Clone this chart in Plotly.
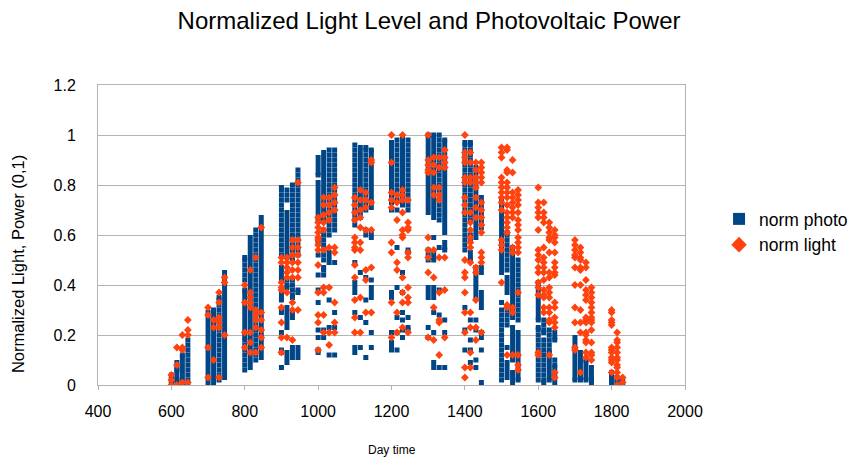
import plotly.graph_objects as go

times = [600, 615, 630, 645, 700, 715, 730, 745, 800, 815, 830, 845,
         900, 915, 930, 945, 1000, 1015, 1030, 1045, 1100, 1115, 1130, 1145,
         1200, 1215, 1230, 1245, 1300, 1315, 1330, 1345, 1400, 1415, 1430, 1445,
         1500, 1515, 1530, 1545, 1600, 1615, 1630, 1645, 1700, 1715, 1730, 1745,
         1800, 1815, 1830]

# norm photo values, one list per time column
photo = [
    [0.0, 0.01, 0.02, 0.03, 0.04],
    [0.01, 0.02, 0.03, 0.05, 0.06, 0.07, 0.09],
    [0.0, 0.01, 0.03, 0.05, 0.07, 0.09, 0.11, 0.12],
    [0.0, 0.02, 0.04, 0.06, 0.08, 0.1, 0.12, 0.14, 0.16, 0.18],
    [0.01, 0.03, 0.05, 0.07, 0.09, 0.11, 0.13, 0.15, 0.17, 0.19, 0.21, 0.23, 0.25, 0.27, 0.29],
    [0.01, 0.03, 0.05, 0.07, 0.09, 0.11, 0.13, 0.15, 0.17, 0.19, 0.21, 0.23, 0.25, 0.27, 0.29, 0.3],
    [0.02, 0.04, 0.06, 0.08, 0.1, 0.12, 0.14, 0.16, 0.18, 0.2, 0.22, 0.24, 0.26, 0.28, 0.3, 0.32, 0.34, 0.35],
    [0.03, 0.05, 0.07, 0.09, 0.11, 0.13, 0.15, 0.17, 0.19, 0.21, 0.23, 0.25, 0.27, 0.29, 0.31, 0.33, 0.35, 0.37, 0.39, 0.41, 0.43, 0.45],
    [0.06, 0.08, 0.1, 0.12, 0.14, 0.16, 0.18, 0.19, 0.21, 0.23, 0.25, 0.27, 0.29, 0.31, 0.33, 0.35, 0.37, 0.38, 0.42, 0.44, 0.46, 0.48, 0.5, 0.51],
    [0.07, 0.09, 0.11, 0.13, 0.15, 0.17, 0.19, 0.21, 0.23, 0.25, 0.27, 0.29, 0.31, 0.33, 0.35, 0.37, 0.39, 0.41, 0.43, 0.45, 0.47, 0.49, 0.51, 0.53, 0.55, 0.57, 0.59],
    [0.1, 0.12, 0.14, 0.16, 0.18, 0.2, 0.22, 0.24, 0.26, 0.28, 0.3, 0.32, 0.34, 0.36, 0.38, 0.4, 0.42, 0.44, 0.46, 0.48, 0.5, 0.52, 0.54, 0.56, 0.58, 0.6, 0.62],
    [0.11, 0.13, 0.15, 0.17, 0.19, 0.21, 0.23, 0.25, 0.27, 0.29, 0.31, 0.33, 0.35, 0.37, 0.39, 0.41, 0.43, 0.45, 0.47, 0.49, 0.51, 0.53, 0.55, 0.57, 0.59, 0.61, 0.63, 0.65, 0.67],
    [0.07, 0.13, 0.14, 0.21, 0.29, 0.3, 0.34, 0.35, 0.37, 0.42, 0.43, 0.45, 0.47, 0.52, 0.54, 0.56, 0.58, 0.6, 0.62, 0.64, 0.66, 0.68, 0.7, 0.72, 0.74, 0.76, 0.78, 0.79],
    [0.09, 0.11, 0.13, 0.23, 0.25, 0.27, 0.29, 0.31, 0.39, 0.4, 0.42, 0.51, 0.53, 0.55, 0.57, 0.59, 0.61, 0.63, 0.65, 0.67, 0.69, 0.74, 0.76, 0.78],
    [0.11, 0.13, 0.15, 0.27, 0.29, 0.35, 0.36, 0.38, 0.4, 0.42, 0.5, 0.52, 0.54, 0.56, 0.58, 0.6, 0.62, 0.64, 0.66, 0.68, 0.7, 0.72, 0.74, 0.76, 0.78, 0.8],
    [0.11, 0.13, 0.15, 0.37, 0.38, 0.52, 0.54, 0.56, 0.58, 0.6, 0.62, 0.64, 0.66, 0.68, 0.7, 0.72, 0.74, 0.76, 0.78, 0.8, 0.82, 0.84, 0.86],
    [0.13, 0.14, 0.19, 0.22, 0.33, 0.38, 0.44, 0.52, 0.57, 0.58, 0.66, 0.67, 0.69, 0.71, 0.73, 0.75, 0.77, 0.79, 0.81, 0.84, 0.85, 0.87, 0.89, 0.91],
    [0.19, 0.22, 0.44, 0.46, 0.47, 0.5, 0.52, 0.54, 0.56, 0.58, 0.6, 0.62, 0.66, 0.67, 0.69, 0.71, 0.73, 0.75, 0.77, 0.79, 0.81, 0.83, 0.85, 0.87, 0.89, 0.91, 0.93],
    [0.12, 0.23, 0.34, 0.49, 0.51, 0.53, 0.6, 0.62, 0.64, 0.66, 0.68, 0.7, 0.72, 0.74, 0.76, 0.78, 0.8, 0.82, 0.84, 0.86, 0.88, 0.9, 0.92, 0.94],
    [0.12, 0.23, 0.29, 0.49, 0.62, 0.64, 0.66, 0.68, 0.7, 0.72, 0.74, 0.76, 0.78, 0.8, 0.82, 0.84, 0.86, 0.88, 0.9, 0.92, 0.94],
    [0.13, 0.15, 0.29, 0.37, 0.39, 0.41, 0.49, 0.64, 0.66, 0.68, 0.7, 0.72, 0.74, 0.76, 0.78, 0.8, 0.82, 0.84, 0.86, 0.88, 0.9, 0.92, 0.94, 0.96],
    [0.15, 0.27, 0.45, 0.67, 0.69, 0.71, 0.73, 0.75, 0.77, 0.79, 0.81, 0.83, 0.85, 0.87, 0.89, 0.91, 0.93, 0.95],
    [0.11, 0.25, 0.34, 0.43, 0.6, 0.62, 0.7, 0.72, 0.74, 0.76, 0.78, 0.8, 0.82, 0.84, 0.86, 0.88, 0.9, 0.92, 0.94, 0.95],
    [0.15, 0.21, 0.35, 0.37, 0.39, 0.42, 0.59, 0.61, 0.71, 0.73, 0.75, 0.77, 0.79, 0.81, 0.83, 0.85, 0.87, 0.89, 0.91, 0.93, 0.94],
    [0.14, 0.15, 0.17, 0.21, 0.35, 0.37, 0.7, 0.73, 0.75, 0.77, 0.79, 0.81, 0.83, 0.85, 0.87, 0.89, 0.91, 0.93, 0.95, 0.97],
    [0.14, 0.21, 0.27, 0.39, 0.55, 0.7, 0.74, 0.76, 0.78, 0.8, 0.82, 0.84, 0.86, 0.88, 0.9, 0.92, 0.94, 0.96, 0.98],
    [0.19, 0.22, 0.26, 0.29, 0.37, 0.45, 0.72, 0.73, 0.75, 0.77, 0.79, 0.81, 0.83, 0.85, 0.87, 0.89, 0.91, 0.93, 0.95, 0.97, 0.99],
    [0.22, 0.23, 0.27, 0.53, 0.54, 0.7, 0.72, 0.74, 0.76, 0.78, 0.8, 0.82, 0.84, 0.86, 0.88, 0.9, 0.92, 0.94, 0.96, 0.98],
    [0.19, 0.23, 0.35, 0.37, 0.39, 0.5, 0.52, 0.54, 0.69, 0.71, 0.73, 0.75, 0.77, 0.79, 0.81, 0.83, 0.85, 0.87, 0.89, 0.91, 0.93, 0.95, 0.97, 0.99, 1.0],
    [0.07, 0.09, 0.21, 0.29, 0.35, 0.37, 0.39, 0.5, 0.51, 0.53, 0.59, 0.67, 0.69, 0.71, 0.73, 0.75, 0.77, 0.79, 0.81, 0.83, 0.85, 0.87, 0.89, 0.91, 0.93, 0.95, 0.97, 0.99, 1.0],
    [0.07, 0.28, 0.38, 0.55, 0.66, 0.68, 0.7, 0.72, 0.74, 0.76, 0.78, 0.8, 0.82, 0.84, 0.86, 0.88, 0.9, 0.92, 0.94, 0.96, 0.98, 1.0],
    [0.07, 0.21, 0.26, 0.54, 0.55, 0.57, 0.61, 0.63, 0.65, 0.67, 0.69, 0.71, 0.73, 0.75, 0.77, 0.79, 0.81, 0.83, 0.85, 0.87, 0.89, 0.91, 0.93, 0.95, 0.97, 0.98],
    [0.14, 0.22, 0.31, 0.54, 0.56, 0.58, 0.6, 0.62, 0.64, 0.66, 0.68, 0.7, 0.72, 0.74, 0.76, 0.78, 0.8, 0.82, 0.84, 0.86, 0.88, 0.9, 0.92, 0.94, 0.96, 0.97],
    [0.09, 0.14, 0.18, 0.26, 0.5, 0.51, 0.53, 0.58, 0.6, 0.66, 0.68, 0.7, 0.72, 0.74, 0.76, 0.78, 0.8, 0.82, 0.84, 0.86, 0.88, 0.9, 0.92, 0.94, 0.96, 0.97],
    [0.07, 0.1, 0.22, 0.26, 0.35, 0.37, 0.39, 0.41, 0.43, 0.45, 0.47, 0.59, 0.61, 0.63, 0.65, 0.67, 0.69, 0.71, 0.73, 0.75, 0.77, 0.79, 0.81, 0.83, 0.85, 0.87],
    [0.01, 0.14, 0.19, 0.21, 0.31, 0.33, 0.35, 0.37, 0.45, 0.47, 0.63, 0.65, 0.67, 0.69, 0.71, 0.73, 0.75],
    [0.02, 0.04, 0.06, 0.08, 0.1, 0.12, 0.14, 0.16, 0.18, 0.2, 0.22, 0.24, 0.26, 0.28, 0.3, 0.33, 0.45, 0.47, 0.49, 0.51, 0.53, 0.55, 0.57, 0.59, 0.61, 0.63, 0.65, 0.67, 0.69, 0.71, 0.73, 0.74],
    [0.03, 0.05, 0.07, 0.09, 0.15, 0.24, 0.26, 0.28, 0.3, 0.37, 0.39, 0.41, 0.43, 0.46, 0.48, 0.5, 0.52, 0.54, 0.56, 0.58, 0.6, 0.61],
    [0.01, 0.03, 0.05, 0.1, 0.11, 0.13, 0.15, 0.17, 0.19, 0.21, 0.23, 0.27, 0.29, 0.31, 0.33, 0.35, 0.37, 0.39, 0.41, 0.43, 0.45, 0.47, 0.49, 0.51, 0.53, 0.55],
    [0.02, 0.03, 0.05, 0.07, 0.09, 0.11, 0.13, 0.15, 0.17, 0.19, 0.21, 0.26, 0.28, 0.3, 0.32, 0.34, 0.36, 0.38, 0.4, 0.42, 0.44, 0.46, 0.48, 0.5],
    [0.02, 0.04, 0.06, 0.08, 0.1, 0.12, 0.14, 0.16, 0.18, 0.2, 0.22, 0.23, 0.26, 0.27, 0.29, 0.31, 0.33, 0.35, 0.37, 0.39, 0.41],
    [0.01, 0.02, 0.04, 0.06, 0.08, 0.1, 0.12, 0.14, 0.16, 0.18, 0.21, 0.22, 0.24, 0.26],
    [0.02, 0.03, 0.05, 0.07, 0.09, 0.11, 0.13, 0.14, 0.16, 0.18, 0.2, 0.22],
    [0.01, 0.03, 0.05, 0.07, 0.08, 0.1, 0.18, 0.19, 0.21],
    [0.02, 0.03, 0.05, 0.07, 0.09, 0.11, 0.13, 0.15, 0.17, 0.19],
    [0.02, 0.03, 0.05, 0.07, 0.09, 0.11, 0.13],
    [0.02, 0.03, 0.05, 0.07, 0.09, 0.1],
    [0.01, 0.02, 0.03, 0.05, 0.07],
    [0.0, 0.01, 0.02, 0.03, 0.04, 0.05],
    [0.0, 0.01, 0.02, 0.03],
    [0.0, 0.01, 0.02],
]

# norm light values, one list per time column
light = [
    [0.0, 0.02, 0.04],
    [0.0, 0.08, 0.15],
    [0.01, 0.14, 0.15, 0.2],
    [0.01, 0.2, 0.22, 0.26],
    [0.03, 0.15, 0.28, 0.31],
    [0.1, 0.23, 0.26],
    [0.03, 0.23, 0.25, 0.27, 0.33, 0.37],
    [0.2, 0.41, 0.43],
    [0.15, 0.21, 0.33, 0.4],
    [0.13, 0.17, 0.21, 0.31, 0.33, 0.35, 0.37, 0.46],
    [0.13, 0.23, 0.26, 0.28, 0.3, 0.51],
    [0.15, 0.19, 0.22, 0.26, 0.29, 0.63],
    [0.13, 0.19, 0.25, 0.31, 0.38, 0.39, 0.41, 0.49, 0.51],
    [0.19, 0.37, 0.43, 0.45, 0.47, 0.49, 0.51],
    [0.18, 0.3, 0.33, 0.43, 0.46, 0.49, 0.52, 0.55, 0.58],
    [0.3, 0.43, 0.46, 0.49, 0.52, 0.55, 0.58, 0.81],
    [0.14, 0.25, 0.28, 0.37, 0.48, 0.54, 0.56, 0.58, 0.59, 0.61, 0.63, 0.65, 0.67],
    [0.21, 0.28, 0.37, 0.39, 0.54, 0.62, 0.65, 0.68, 0.72, 0.75],
    [0.16, 0.21, 0.39, 0.55, 0.66, 0.69, 0.72, 0.75],
    [0.21, 0.25, 0.33, 0.53, 0.55, 0.7, 0.73, 0.76, 0.79],
    [0.21, 0.27, 0.34, 0.43, 0.48, 0.54, 0.55, 0.57, 0.59, 0.66, 0.69, 0.72, 0.75],
    [0.21, 0.35, 0.54, 0.57, 0.63, 0.67, 0.7, 0.74, 0.78],
    [0.29, 0.42, 0.46, 0.62, 0.71, 0.74, 0.77],
    [0.29, 0.47, 0.62, 0.73, 0.89, 0.9],
    [0.19, 0.33, 0.53, 0.57, 0.71, 0.74, 0.77, 0.89, 1.0],
    [0.21, 0.29, 0.46, 0.49, 0.66, 0.73, 0.76],
    [0.23, 0.33, 0.37, 0.43, 0.59, 0.6, 0.62, 0.69, 0.74, 0.76, 0.78, 1.0],
    [0.21, 0.33, 0.35, 0.39, 0.51, 0.53, 0.62, 0.63, 0.65, 0.74],
    [0.19, 0.45, 0.51, 0.54, 0.59, 0.85, 0.86, 0.88, 0.9, 1.0],
    [0.18, 0.31, 0.43, 0.54, 0.76, 0.79, 0.85, 0.88, 0.91],
    [0.12, 0.25, 0.26, 0.37, 0.51, 0.74, 0.76, 0.79, 0.87, 0.91],
    [0.19, 0.38, 0.51, 0.87, 0.89, 0.91, 0.94],
    [0.03, 0.07, 0.21, 0.29, 0.37, 0.43, 0.45, 0.5, 0.69, 0.72, 0.75, 0.81, 0.83, 0.89, 0.91, 0.93, 1.0],
    [0.07, 0.13, 0.23, 0.29, 0.49, 0.55, 0.57, 0.59, 0.62, 0.65, 0.69, 0.81, 0.83, 0.89, 0.93],
    [0.18, 0.23, 0.34, 0.45, 0.47, 0.67, 0.71, 0.75, 0.79, 0.81, 0.83, 0.86, 0.89],
    [0.21, 0.49, 0.51, 0.53, 0.61, 0.64, 0.67, 0.7, 0.73, 0.81, 0.83, 0.85, 0.87, 0.89],
    [0.41, 0.54, 0.56, 0.58, 0.7, 0.73, 0.75, 0.77, 0.79, 0.81, 0.83, 0.91, 0.93, 0.95],
    [0.12, 0.31, 0.32, 0.61, 0.63, 0.65, 0.67, 0.69, 0.72, 0.75, 0.77, 0.79, 0.81, 0.85, 0.86, 0.94, 0.95],
    [0.12, 0.29, 0.31, 0.53, 0.55, 0.67, 0.69, 0.71, 0.73, 0.75, 0.77, 0.85, 0.9],
    [0.06, 0.08, 0.12, 0.37, 0.53, 0.55, 0.57, 0.59, 0.62, 0.64, 0.66, 0.69, 0.72, 0.74, 0.76, 0.78],
    [0.12, 0.13, 0.36, 0.39, 0.41, 0.45, 0.47, 0.5, 0.52, 0.54, 0.62, 0.67, 0.69, 0.71, 0.73, 0.79],
    [0.29, 0.31, 0.35, 0.36, 0.38, 0.42, 0.45, 0.47, 0.49, 0.51, 0.55, 0.65, 0.67, 0.69, 0.73],
    [0.12, 0.25, 0.26, 0.29, 0.31, 0.35, 0.37, 0.39, 0.43, 0.45, 0.53, 0.58, 0.59, 0.61, 0.63, 0.65],
    [0.03, 0.05, 0.23, 0.25, 0.27, 0.31, 0.33, 0.44, 0.45, 0.47, 0.49, 0.53, 0.57, 0.59, 0.6, 0.62],
    [0.14, 0.15, 0.25, 0.31, 0.4, 0.47, 0.51, 0.52, 0.54, 0.56, 0.58],
    [0.05, 0.21, 0.25, 0.3, 0.4, 0.46, 0.47, 0.5, 0.51, 0.53, 0.55],
    [0.11, 0.13, 0.17, 0.18, 0.2, 0.21, 0.25, 0.26, 0.27, 0.34, 0.36, 0.38, 0.42, 0.47, 0.49],
    [0.1, 0.12, 0.13, 0.17, 0.22, 0.25, 0.26, 0.27, 0.29, 0.31, 0.33, 0.35, 0.37, 0.39],
    [0.05, 0.09, 0.1, 0.11, 0.13, 0.14, 0.15, 0.24, 0.25, 0.26, 0.29, 0.3],
    [0.0, 0.03, 0.05, 0.07, 0.08, 0.1, 0.11, 0.13, 0.15, 0.17, 0.18, 0.21],
    [0.01, 0.03],
]

x_ticks = [400, 600, 800, 1000, 1200, 1400, 1600, 1800, 2000]
y_ticks = [0, 0.2, 0.4, 0.6, 0.8, 1, 1.2]

def flatten(groups):
    xs, ys = [], []
    for t, vals in zip(times, groups):
        xs.extend([t] * len(vals))
        ys.extend(vals)
    return xs, ys

px, py = flatten(photo)
lx, ly = flatten(light)

FONT = "Liberation Sans, Arial, sans-serif"
GRID = "#b3b3b3"

fig = go.Figure()
fig.add_trace(go.Scatter(x=px, y=py, mode="markers", name="norm photo",
                         marker=dict(symbol="square", size=5, color="#004586")))
fig.add_trace(go.Scatter(x=lx, y=ly, mode="markers", name="norm light",
                         marker=dict(symbol="diamond", size=6, color="#ff420e")))

# the page body has an 8px margin, so the figure is 8px smaller than the window
fig.update_layout(
    width=853, height=452,
    margin=dict(l=90, r=176, t=77, b=75, autoexpand=False),
    paper_bgcolor="white", plot_bgcolor="white",
    font=dict(family=FONT, color="black"),
    title=dict(text="Normalized Light Level and Photovoltaic Power",
               x=0.4936, xanchor="center", xref="container",
               y=0.973, yanchor="middle", yref="container",
               font=dict(size=24, family=FONT, color="black"), automargin=False),
    legend=dict(x=1.058, xanchor="left", y=0.51, yanchor="middle",
                font=dict(size=17.5, family=FONT), itemsizing="constant",
                tracegroupgap=4, borderwidth=0, bgcolor="rgba(0,0,0,0)"),
    showlegend=True,
    annotations=[
        dict(text="Day time", xref="paper", yref="paper", x=0.5, y=-0.217,
             xanchor="center", yanchor="middle", showarrow=False,
             font=dict(size=12, family=FONT, color="black")),
        dict(text="Normalized Light, Power (0,1)", xref="paper", yref="paper",
             x=-0.1363, y=0.403, xanchor="center", yanchor="middle",
             textangle=-90, showarrow=False,
             font=dict(size=16.5, family=FONT, color="black")),
    ],
)
fig.update_xaxes(range=[400, 2000], tickvals=x_ticks, showgrid=False,
                 showline=True, linecolor=GRID, linewidth=1, mirror=True,
                 ticks="outside", ticklen=4, tickcolor=GRID,
                 tickfont=dict(size=16, family=FONT), ticklabelstandoff=8,
                 zeroline=False, automargin=False)
fig.update_yaxes(range=[0, 1.2], tickvals=y_ticks, showgrid=True, gridcolor=GRID,
                 showline=True, linecolor=GRID, linewidth=1, mirror=True,
                 ticks="", tickfont=dict(size=16, family=FONT), ticklabelstandoff=18,
                 zeroline=False, automargin=False)

fig.write_html("out.html")
